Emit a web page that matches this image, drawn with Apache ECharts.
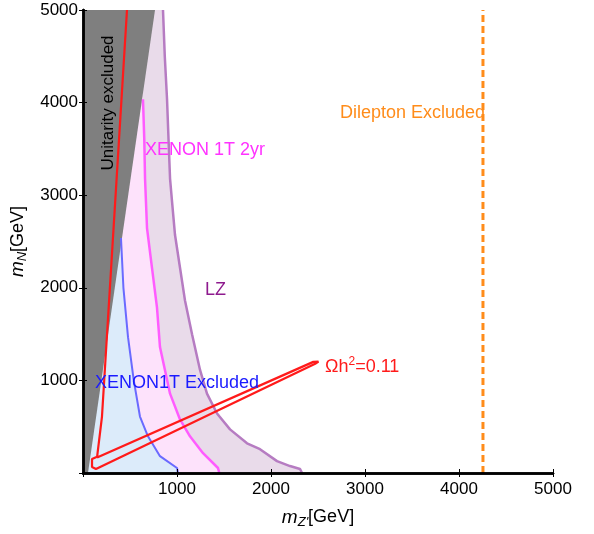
<!DOCTYPE html>
<html style="height: 100%">
<head>
	<meta charset="utf-8">
	<title></title>
	<script type="text/javascript" src="https://cdn.jsdelivr.net/npm/echarts@6/dist/echarts.min.js"></script>
</head>
<body style="height: 100%; margin: 0; background: #fff">
<div id="container" style="width: 594px; height: 534px"></div>
<script type="text/javascript">
	// axis ticks
	var xTicks = [1000, 2000, 3000, 4000, 5000];
	var yTicks = [1000, 2000, 3000, 4000, 5000];

	// unitarity excluded edge (gray, filled above)
	var unitX = [0, 53, 766];
	var unitY = [0, 0, 5000];

	// LZ curve
	var lzX = [851, 870, 894, 910, 926, 947, 979, 1032, 1085, 1160, 1245, 1319, 1426, 1564, 1745, 1883, 2064, 2202, 2309, 2330];
	var lzY = [5000, 4500, 4036, 3600, 3180, 2934, 2570, 2216, 1863, 1499, 1113, 857, 642, 471, 321, 257, 128, 75, 43, 0];

	// XENON 1T 2yr curve
	var xe2X = [638, 652, 660, 681, 734, 787, 819, 926, 1032, 1138, 1277, 1436, 1450];
	var xe2Y = [4036, 3600, 3180, 2645, 2216, 1788, 1360, 857, 578, 396, 214, 54, 0];

	// XENON1T excluded curve
	var xeX = [404, 430, 479, 540, 606, 691, 760, 819, 1000, 1010];
	var xeY = [2537, 2000, 1467, 1000, 610, 396, 280, 182, 54, 0];

	// relic density contour (Omega h^2 = 0.11)
	var relicX = [468, 202, 150, 96, 96, 138, 2470, 2505, 2450, 150];
	var relicY = [5000, 610, 175, 150, 64, 43, 1180, 1203, 1200, 168];

	// dilepton bound
	var dilepX = [4255, 4255];
	var dilepY = [0, 5000];

	function pts(xs, ys){
		var out = [];
		for(var i=0;i<xs.length;i++){
			out.push([xs[i], ys[i]]);
		}
		return out;
	}

	function fill(data, color, origin){
		return {
			type: 'line', data: data, symbol: 'none', silent: true,
			lineStyle: {width: 0},
			areaStyle: {color: color, opacity: 1, origin: origin || 'auto'}
		};
	}

	function stroke(data, color, width, dash){
		return {
			type: 'line', data: data, symbol: 'none', silent: true,
			lineStyle: {color: color, width: width, type: dash || 'solid'}
		};
	}

	var font = 'Liberation Sans, Arial, sans-serif';
	var dom = document.getElementById('container');
	var myChart = echarts.init(dom);

	var frameAxis = {
		min: 0, max: 5000, interval: 1000, z: 10,
		axisLine: {show: true, lineStyle: {color: '#000', width: 2.5}},
		axisTick: {show: true, inside: true, length: 4, lineStyle: {color: '#000', width: 1}},
		splitLine: {show: false}
	};

	var nameRich = {
		i: {fontSize: 19, fontStyle: 'italic', fontFamily: font, color: '#000'},
		s: {fontSize: 13, fontStyle: 'italic', fontFamily: font, color: '#000', padding: [10, 0, 0, 0]},
		n: {fontSize: 18, fontFamily: font, color: '#000'}
	};

	var option = {
		animation: false,
		grid: {left: 83, right: 41, top: 10, bottom: 58},
		xAxis: [
			echarts.util.merge({
				type: 'value', position: 'bottom',
				axisLabel: {color: '#000', fontSize: 17, fontFamily: font, margin: 8, formatter: function(v){
					return xTicks.indexOf(v) >= 0 ? String(v) : '';
				}},
				name: "{i|m}{s|Z'}{n|[GeV]}",
				nameLocation: 'middle', nameGap: 33,
				nameTextStyle: {rich: nameRich}
			}, frameAxis, true),
			echarts.util.merge({type: 'value', position: 'top', axisLabel: {show: false}}, frameAxis, true)
		],
		yAxis: [
			echarts.util.merge({
				type: 'value', position: 'left',
				axisLabel: {color: '#000', fontSize: 17, fontFamily: font, margin: 5, formatter: function(v){
					return yTicks.indexOf(v) >= 0 ? String(v) : '';
				}},
				name: '{i|m}{s|N}{n|[GeV]}',
				nameLocation: 'middle', nameGap: 52,
				nameTextStyle: {rich: nameRich}
			}, frameAxis, true),
			echarts.util.merge({type: 'value', position: 'right', axisLabel: {show: false}}, frameAxis, true)
		],
		series: [
			fill([[0, 5000]].concat(pts(lzX, lzY)), '#e9dbea'),
			fill([[0, 5000], [636, 5000]].concat(pts(xe2X, xe2Y)), '#fde2fb'),
			fill([[0, 2537]].concat(pts(xeX, xeY)), '#dcebfa'),
			fill(pts(unitX, unitY), '#7f7f7f', 'end'),
			stroke(pts(lzX, lzY), '#b67cc2', 2.5),
			stroke(pts(xe2X, xe2Y), '#ff5cff', 2.5),
			stroke(pts(xeX, xeY), '#6a6aff', 2),
			stroke(pts(relicX, relicY), '#ff1a1a', 2.2),
			stroke(pts(dilepX, dilepY), '#ff8c1a', 3, [7, 4])
		],
		graphic: [
			{type: 'text', x: 108, y: 103, rotation: Math.PI / 2, z: 100,
				style: {text: 'Unitarity excluded', fill: '#000', font: '17px ' + font, textAlign: 'center', textVerticalAlign: 'middle'}},
			{type: 'text', x: 145, y: 150, z: 100,
				style: {text: 'XENON 1T 2yr', fill: '#ff33ff', font: '18px ' + font, textVerticalAlign: 'middle'}},
			{type: 'text', x: 205, y: 290, z: 100,
				style: {text: 'LZ', fill: '#8e1a8e', font: '18px ' + font, textVerticalAlign: 'middle'}},
			{type: 'text', x: 95, y: 383, z: 100,
				style: {text: 'XENON1T Excluded', fill: '#1a1aff', font: '18px ' + font, textVerticalAlign: 'middle'}},
			{type: 'text', x: 340, y: 113, z: 100,
				style: {text: 'Dilepton Excluded', fill: '#ff8c1a', font: '18px ' + font, textVerticalAlign: 'middle'}},
			{type: 'text', x: 325, y: 367, z: 100,
				style: {
					text: '{a|\u03A9h}{b|2}{a|=0.11}', textVerticalAlign: 'middle', fill: '#ff1a1a',
					rich: {
						a: {fontSize: 18, fontFamily: font, fill: '#ff1a1a'},
						b: {fontSize: 12, fontFamily: font, fill: '#ff1a1a', padding: [0, 0, 10, 0]}
					}
				}}
		]
	};

	myChart.setOption(option);
</script>
</body>
</html>
